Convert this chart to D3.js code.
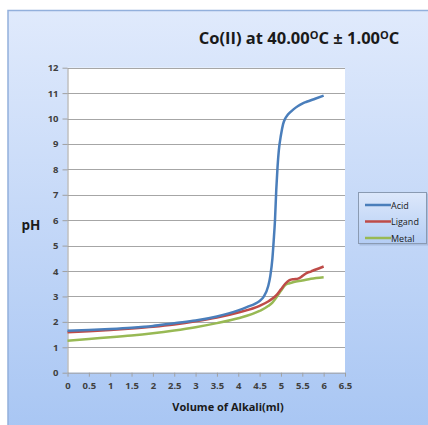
<!DOCTYPE html>
<html>
<head>
<meta charset="utf-8">
<script src="https://cdn.jsdelivr.net/npm/d3@7"></script>
<style>
  body { margin: 0; background: #fff; }
  text { font-family: "Open Sans", "Liberation Sans", sans-serif; }
</style>
</head>
<body>
<svg id="chart" width="428" height="425"></svg>
<script>
/* data */
const acidVol = [0, 0.5, 1, 1.5, 2, 2.5, 3, 3.5, 4, 4.2, 4.4, 4.5, 4.6, 4.7, 4.75, 4.8, 4.83, 4.86, 4.89, 4.92, 4.95, 5.0, 5.05, 5.1, 5.15, 5.2, 5.3, 5.4, 5.5, 5.6, 5.8, 6.0];
const acidPH = [1.65, 1.68, 1.72, 1.77, 1.84, 1.95, 2.05, 2.21, 2.45, 2.58, 2.72, 2.82, 3.0, 3.4, 3.8, 4.5, 5.2, 6.0, 7.2, 8.1, 8.75, 9.35, 9.78, 10.0, 10.13, 10.22, 10.37, 10.49, 10.59, 10.66, 10.78, 10.9];

const ligandVol = [0, 0.5, 1, 1.5, 2, 2.5, 3, 3.5, 4, 4.5, 4.7, 4.8, 4.9, 5.0, 5.1, 5.2, 5.3, 5.4, 5.5, 5.6, 5.7, 5.8, 6.0];
const ligandPH = [1.59, 1.63, 1.68, 1.74, 1.81, 1.9, 2.02, 2.17, 2.37, 2.63, 2.8, 2.92, 3.06, 3.28, 3.5, 3.64, 3.68, 3.7, 3.8, 3.92, 3.98, 4.05, 4.18];

const metalVol = [0, 0.5, 1, 1.5, 2, 2.5, 3, 3.5, 4, 4.5, 4.7, 4.8, 4.9, 5.0, 5.1, 5.2, 5.3, 5.5, 5.7, 6.0];
const metalPH = [1.26, 1.33, 1.39, 1.46, 1.55, 1.66, 1.79, 1.95, 2.14, 2.43, 2.62, 2.76, 2.98, 3.22, 3.45, 3.52, 3.57, 3.63, 3.7, 3.76];

const seriesNames = ["Acid", "Ligand", "Metal"];
const seriesColors = ["#4a7ebb", "#be4b48", "#98b954"];
const xTicks = [0, 0.5, 1, 1.5, 2, 2.5, 3, 3.5, 4, 4.5, 5, 5.5, 6, 6.5];
const yTicks = [0, 1, 2, 3, 4, 5, 6, 7, 8, 9, 10, 11, 12];

const svg = d3.select("#chart");

/* background frame with gradient */
const defs = svg.append("defs");
const bg = defs.append("linearGradient").attr("id", "bgGrad")
    .attr("x1", 0).attr("y1", 0).attr("x2", 0).attr("y2", 1);
bg.append("stop").attr("offset", "0%").attr("stop-color", "#e0eafc");
bg.append("stop").attr("offset", "100%").attr("stop-color", "#a7c5f3");

const lg = defs.append("linearGradient").attr("id", "legGrad")
    .attr("x1", 0).attr("y1", 0).attr("x2", 0).attr("y2", 1);
lg.append("stop").attr("offset", "0%").attr("stop-color", "#dde8fb");
lg.append("stop").attr("offset", "100%").attr("stop-color", "#b4cdf4");

svg.append("rect")
    .attr("x", 8).attr("y", 10.5)
    .attr("width", 430).attr("height", 430)
    .style("fill", "url(#bgGrad)")
    .style("stroke", "#93b0dc")
    .style("stroke-width", 1.5);

/* plot area */
const plotLeft = 67.5, plotRight = 345, plotTop = 67.7, plotBottom = 372.7;

const x = d3.scaleLinear().domain([0, 6.5]).range([plotLeft, plotRight]);
const y = d3.scaleLinear().domain([0, 12]).range([plotBottom, plotTop]);

svg.append("rect")
    .attr("x", plotLeft).attr("y", plotTop)
    .attr("width", plotRight - plotLeft).attr("height", plotBottom - plotTop)
    .style("fill", "#ffffff");

/* gridlines */
svg.append("g")
    .selectAll("line")
    .data(yTicks.filter(d => d > 0))
    .enter()
    .append("line")
    .attr("x1", plotLeft).attr("x2", plotRight)
    .attr("y1", d => Math.round(y(d)) + 0.5)
    .attr("y2", d => Math.round(y(d)) + 0.5)
    .style("stroke", "#a6a6a6")
    .style("stroke-width", 1);

/* y axis */
const yAxis = d3.axisLeft(y)
    .tickValues(yTicks)
    .tickSize(5)
    .tickPadding(4)
    .tickSizeOuter(0);

svg.append("g")
    .attr("transform", "translate(" + plotLeft + ",0)")
    .call(yAxis)
    .call(g => g.selectAll("line").style("stroke", "#a0a0a0"))
    .call(g => g.select(".domain").style("stroke", "#a0a0a0"))
    .call(g => g.selectAll("text")
        .style("font-family", "'Open Sans', sans-serif")
        .style("font-size", "9.5px")
        .style("font-weight", "bold")
        .style("fill", "#404040"));

/* x axis */
const xAxis = d3.axisBottom(x)
    .tickValues(xTicks)
    .tickFormat(d => d)
    .tickSize(4)
    .tickPadding(6)
    .tickSizeOuter(0);

svg.append("g")
    .attr("transform", "translate(0," + plotBottom + ")")
    .call(xAxis)
    .call(g => g.selectAll("line").style("stroke", "#a0a0a0"))
    .call(g => g.select(".domain").style("stroke", "#a0a0a0"))
    .call(g => g.selectAll("text")
        .style("font-family", "'Open Sans', sans-serif")
        .style("font-size", "9.5px")
        .style("font-weight", "bold")
        .style("fill", "#404040"));

/* lines */
const seriesData = [
    d3.zip(acidVol, acidPH),
    d3.zip(ligandVol, ligandPH),
    d3.zip(metalVol, metalPH)
];

const line = d3.line()
    .x(d => x(d[0]))
    .y(d => y(d[1]))
    .curve(d3.curveMonotoneX);

// draw metal first so acid ends up on top like the original
[2, 1, 0].forEach(i => {
    svg.append("path")
        .datum(seriesData[i])
        .attr("d", line)
        .style("fill", "none")
        .style("stroke", seriesColors[i])
        .style("stroke-width", 2.5)
        .style("stroke-linejoin", "round");
});

/* title */
const title = svg.append("text")
    .attr("x", 299)
    .attr("y", 44)
    .attr("text-anchor", "middle")
    .style("font-family", "'Open Sans', sans-serif")
    .style("font-size", "16.5px")
    .style("font-weight", "bold")
    .style("fill", "#1a1a1a");
title.append("tspan").text("Co(II) at 40.00");
title.append("tspan").attr("dy", -5.5).style("font-size", "11px").text("O");
title.append("tspan").attr("dy", 5.5).text("C ± 1.00");
title.append("tspan").attr("dy", -5.5).style("font-size", "11px").text("O");
title.append("tspan").attr("dy", 5.5).text("C");

/* axis titles */
svg.append("text")
    .attr("x", 31)
    .attr("y", 230)
    .attr("text-anchor", "middle")
    .style("font-size", "13.5px")
    .style("font-weight", "bold")
    .style("fill", "#1a1a1a")
    .text("pH");

svg.append("text")
    .attr("x", 228)
    .attr("y", 411)
    .attr("text-anchor", "middle")
    .style("font-size", "11px")
    .style("font-weight", "bold")
    .style("fill", "#1a1a1a")
    .text("Volume of Alkali(ml)");

/* legend */
const legend = svg.append("g").attr("transform", "translate(358,192)");

legend.append("rect")
    .attr("x", 1.5).attr("y", 1.5)
    .attr("width", 69).attr("height", 52)
    .style("fill", "#8fa6c8")
    .style("opacity", 0.5);

legend.append("rect")
    .attr("x", 0.5).attr("y", 0.5)
    .attr("width", 68).attr("height", 51)
    .style("fill", "url(#legGrad)")
    .style("stroke", "#8a9ab2");

seriesNames.forEach((name, i) => {
    legend.append("line")
        .attr("x1", 7).attr("x2", 33)
        .attr("y1", 13 + i * 16.5).attr("y2", 13 + i * 16.5)
        .style("stroke", seriesColors[i])
        .style("stroke-width", 2.5);
    legend.append("text")
        .attr("x", 33)
        .attr("y", 16.5 + i * 16.5)
        .style("font-size", "9px")
        .style("fill", "#1a1a1a")
        .text(name);
});
</script>
</body>
</html>
